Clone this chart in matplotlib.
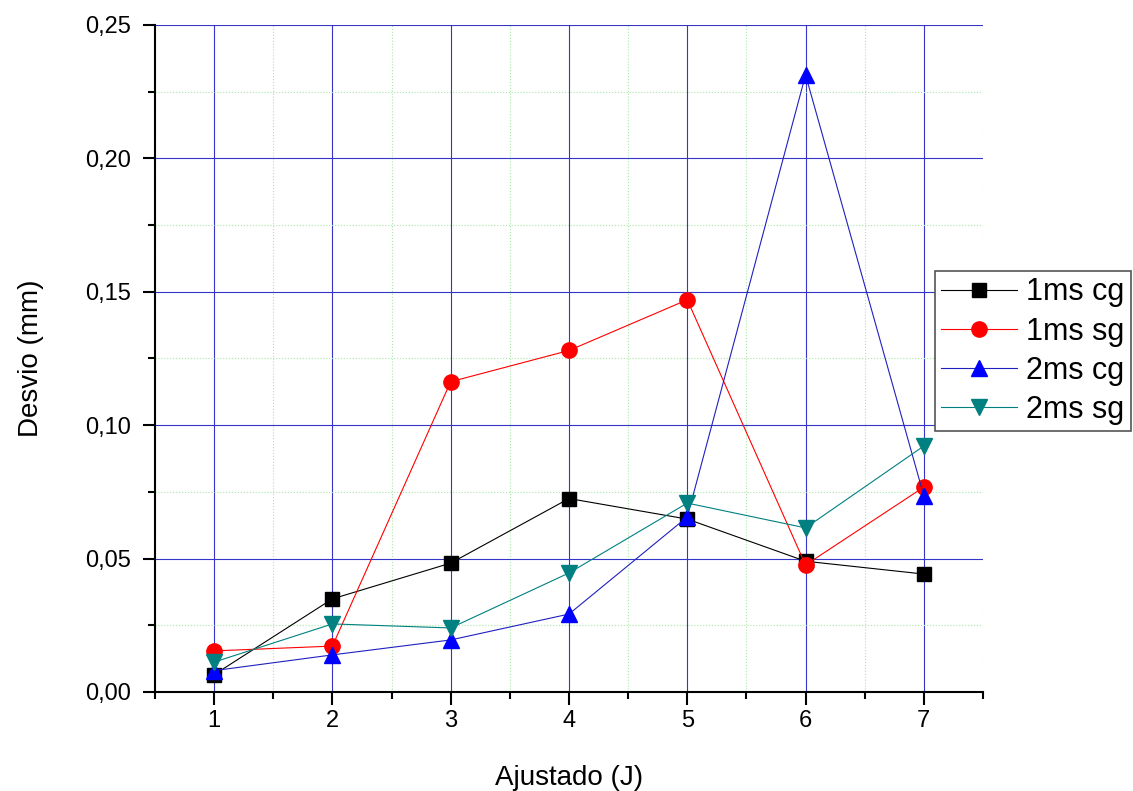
import matplotlib
matplotlib.use('Agg')
import matplotlib.pyplot as plt
from matplotlib.ticker import MultipleLocator, FuncFormatter

plt.rcParams['font.family'] = ['Liberation Sans', 'DejaVu Sans']

ajustado = [1, 2, 3, 4, 5, 6, 7]
ms1_cg = [0.0065, 0.0349, 0.0483, 0.0725, 0.0648, 0.0490, 0.0442]
ms1_sg = [0.0154, 0.0172, 0.1163, 0.1280, 0.1470, 0.0476, 0.0768]
ms2_cg = [0.0080, 0.0139, 0.0195, 0.0292, 0.0656, 0.2313, 0.0735]
ms2_sg = [0.0112, 0.0255, 0.0240, 0.0446, 0.0708, 0.0615, 0.0922]

fig = plt.figure(figsize=(11.33, 7.91), dpi=100)
ax = fig.add_axes([0.1368, 0.1252, 0.7308, 0.8432])

ax.plot(ajustado, ms1_cg, color='black', lw=0.8, marker='s', ms=10, label='1ms cg')
ax.plot(ajustado, ms1_sg, color='red', lw=0.8, marker='o', ms=11, label='1ms sg')
ax.plot(ajustado, ms2_cg, color='#2020c0', lw=0.8, marker='^', ms=11, mfc='blue', mec='blue', label='2ms cg')
ax.plot(ajustado, ms2_sg, color='#008080', lw=0.8, marker='v', ms=11, label='2ms sg')

ax.set_xlim(0.5, 7.5)
ax.set_ylim(0, 0.25)
ax.xaxis.set_major_locator(MultipleLocator(1))
ax.xaxis.set_minor_locator(MultipleLocator(0.5))
ax.yaxis.set_major_locator(MultipleLocator(0.05))
ax.yaxis.set_minor_locator(MultipleLocator(0.025))
ax.yaxis.set_major_formatter(FuncFormatter(lambda v, p: f'{v:.2f}'.replace('.', ',')))

ax.grid(which='major', color='#3535c8', lw=0.8, zorder=0)
ax.grid(which='minor', color='#a8e8a8', lw=0.8, ls=':', zorder=0)
ax.set_axisbelow(True)

for s in ['top', 'right']:
    ax.spines[s].set_visible(False)
for s in ['left', 'bottom']:
    ax.spines[s].set_linewidth(1.5)
ax.tick_params(which='major', direction='out', length=9, width=1.5, labelsize=17)
ax.tick_params(axis='y', which='major', pad=8)
ax.tick_params(axis='x', which='major', pad=4)
ax.tick_params(which='minor', direction='out', length=5, width=1.5)

ax.set_xlabel('Ajustado (J)', fontsize=20, labelpad=24)
ax.set_ylabel('Desvio (mm)', fontsize=20, labelpad=30)

leg = ax.legend(loc='upper right', bbox_to_anchor=(0.998, 0.657), bbox_transform=fig.transFigure,
                fontsize=22, fancybox=False, edgecolor='#555555', framealpha=1,
                handlelength=2.5, handletextpad=0.3, borderpad=0.2, labelspacing=0.3,
                borderaxespad=0)
leg.get_frame().set_linewidth(1.2)

fig.savefig('out.png', dpi=100)
